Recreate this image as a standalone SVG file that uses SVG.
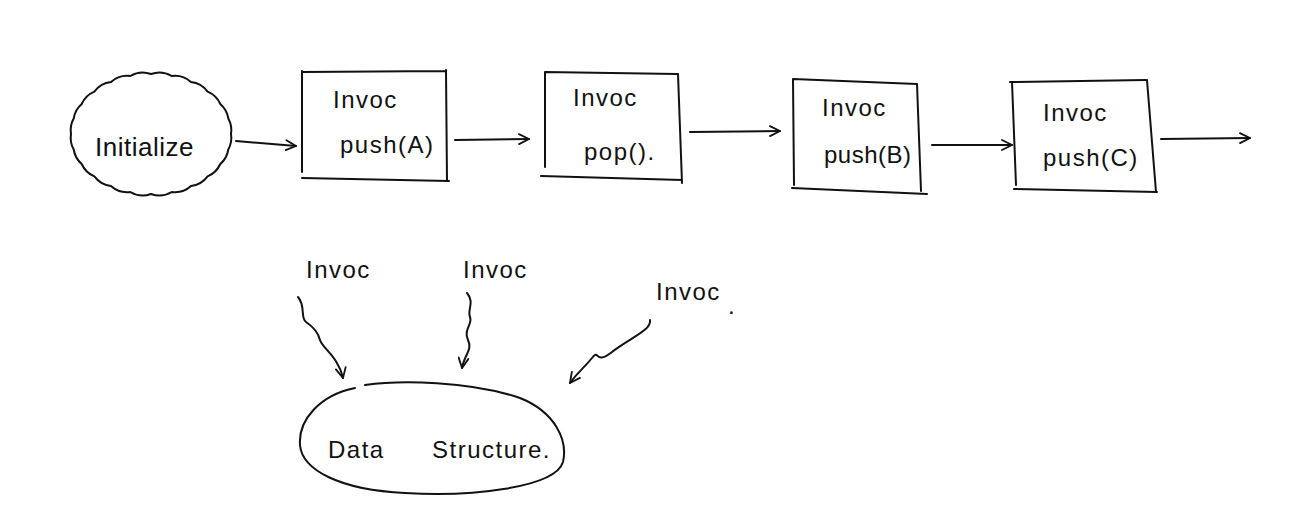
<svg xmlns="http://www.w3.org/2000/svg" width="1302" height="512" viewBox="0 0 1302 512">
<style>
.s{fill:none;stroke:#111;stroke-width:2;stroke-linecap:round;stroke-linejoin:round}
.t{font-family:"Liberation Sans",Arial,sans-serif;fill:#111;font-size:24px;letter-spacing:1.5px}
</style>
<defs>
<marker id="ah" viewBox="0 0 12 12" refX="11" refY="6" markerWidth="12" markerHeight="12" markerUnits="userSpaceOnUse" orient="auto">
<path d="M1 1 L11 6 L1 11" fill="none" stroke="#111" stroke-width="1.8" stroke-linecap="round" stroke-linejoin="round"/>
</marker>
</defs>
<rect width="1302" height="512" fill="#fff"/>
<g id="initialize">
<path class="s" d="M231 134 A24 24 0 0 1 228.3 149.5 A24 24 0 0 1 220.3 164 A24 24 0 0 1 207.6 176.4 A24 24 0 0 1 191 186 A24 24 0 0 1 171.7 192 A24 24 0 0 1 151 194 A24 24 0 0 1 130.3 192 A24 24 0 0 1 111 186 A24 24 0 0 1 94.4 176.4 A24 24 0 0 1 81.7 164 A24 24 0 0 1 73.7 149.5 A24 24 0 0 1 71 134 A24 24 0 0 1 73.7 118.5 A24 24 0 0 1 81.7 104 A24 24 0 0 1 94.4 91.6 A24 24 0 0 1 111 82 A24 24 0 0 1 130.3 76 A24 24 0 0 1 151 74 A24 24 0 0 1 171.7 76 A24 24 0 0 1 191 82 A24 24 0 0 1 207.6 91.6 A24 24 0 0 1 220.3 104 A24 24 0 0 1 228.3 118.5 A24 24 0 0 1 231 134 Z"/>
<text class="t" x="95" y="156" style="font-size:26px;letter-spacing:0.5px">Initialize</text>
</g>
<g id="push-a">
<path class="s" d="M303 72 L446 71 M446 70 L447 181 M302 71 L302 172 M302 178 L449 181"/>
<text class="t" x="333" y="108">Invoc</text>
<text class="t" x="340" y="153">push(A)</text>
</g>
<g id="pop">
<path class="s" d="M545 72 L677 74 M678 74 L682 183 M545 72 L545 167 M541 176 L682 180"/>
<text class="t" x="573" y="106">Invoc</text>
<text class="t" x="584" y="160">pop().</text>
</g>
<g id="push-b">
<path class="s" d="M793 79 L917 84 M917 84 L921 191 M793 79 L794 185 M792 188 L927 194"/>
<text class="t" x="822" y="116">Invoc</text>
<text class="t" x="824" y="163" style="letter-spacing:0.5px">push(B)</text>
</g>
<g id="push-c">
<path class="s" d="M1010 82 L1146 80 M1147 80 L1156 192 M1012 82 L1016 185 M1014 189 L1157 192"/>
<text class="t" x="1043" y="121">Invoc</text>
<text class="t" x="1043" y="166">push(C)</text>
</g>
<g id="data-structure">
<path class="s" d="M365 385 C400 380 470 381 520 398 C555 412 568 440 563 462 C555 488 470 497 405 493 C340 490 302 470 300 445 C298 420 320 395 355 388"/>
<text class="t" x="328" y="458">Data</text>
<text class="t" x="432" y="458">Structure.</text>
</g>
<g id="labels">
<text class="t" x="306" y="278">Invoc</text>
<text class="t" x="463" y="278">Invoc</text>
<text class="t" x="656" y="300">Invoc</text>
<text class="t" x="728" y="314">.</text>
</g>
<g id="connectors">
<path class="s" marker-end="url(#ah)" d="M236 141 L296 146"/>
<path class="s" marker-end="url(#ah)" d="M455 140 L529 139"/>
<path class="s" marker-end="url(#ah)" d="M690 132 L780 131"/>
<path class="s" marker-end="url(#ah)" d="M932 145 L1012 145"/>
<path class="s" marker-end="url(#ah)" d="M1161 139 L1250 138"/>
<path class="s" marker-end="url(#ah)" d="M298 297 C306 306 300 318 306 322 S318 332 320 340 S338 356 343 378"/>
<path class="s" marker-end="url(#ah)" d="M467 293 C475 302 467 310 470 317 S463 330 468 340 S464 355 462 368"/>
<path class="s" marker-end="url(#ah)" d="M650 320 C652 330 630 338 612 352 S600 348 592 358 S578 372 570 383"/>
</g>
</svg>
